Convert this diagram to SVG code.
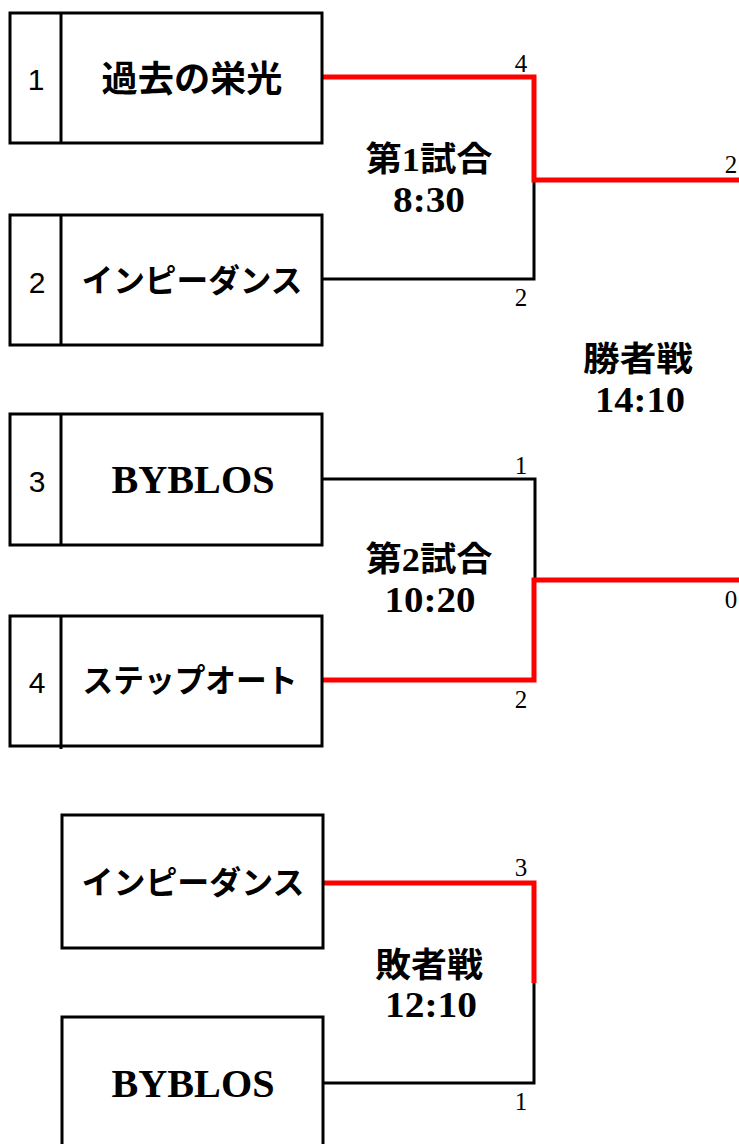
<svg xmlns="http://www.w3.org/2000/svg" width="739" height="1144" viewBox="0 0 739 1144">
<style>
  .box { fill: #fff; stroke: #000; stroke-width: 3; }
  .div { stroke: #000; stroke-width: 3; }
  .num { font-family: "Liberation Sans", Arial, sans-serif; font-size: 30px; fill: #000; text-anchor: middle; }
  .jp { font-family: "Liberation Serif", "Noto Sans CJK JP", serif; font-weight: bold; fill: #000; text-anchor: middle; }
  .en { font-family: "Liberation Serif", serif; font-weight: bold; font-size: 40px; fill: #000; text-anchor: middle; }
  .title { font-family: "Liberation Serif", "Noto Sans CJK JP", serif; font-weight: bold; font-size: 34px; fill: #000; text-anchor: middle; }
  .time { font-family: "Liberation Serif", serif; font-weight: bold; font-size: 36px; fill: #000; text-anchor: middle; }
  .score { font-family: "Liberation Serif", serif; font-size: 25px; fill: #000; text-anchor: middle; }
  .lose { fill: none; stroke: #000; stroke-width: 3; }
  .win { fill: none; stroke: #ff0000; stroke-width: 5; }
</style>
<rect width="739" height="1144" fill="#fff"/>

<g id="connectors">
  <path class="lose" d="M323,279 H534 V180"/>
  <path class="win" d="M323,77 H534 V180 H739"/>
  <path class="lose" d="M323,479 H535 V580"/>
  <path class="win" d="M323,680 H534 V580 H739"/>
  <path class="lose" d="M534,983 V1083 H323"/>
  <path class="win" d="M323,883 H534 V983"/>
</g>

<g id="team1">
  <rect class="box" x="10" y="13" width="312" height="130"/>
  <line class="div" x1="61" y1="13" x2="61" y2="143"/>
  <text class="num" x="36" y="90">1</text>
  <text class="jp" x="192" y="92" font-size="36" textLength="181" lengthAdjust="spacingAndGlyphs">過去の栄光</text>
</g>
<g id="team2">
  <rect class="box" x="10" y="215" width="312" height="130"/>
  <line class="div" x1="61" y1="215" x2="61" y2="345"/>
  <text class="num" x="37" y="293">2</text>
  <text class="jp" x="192" y="292" font-size="32" textLength="221" lengthAdjust="spacingAndGlyphs">インピーダンス</text>
</g>
<g id="team3">
  <rect class="box" x="10" y="414" width="312" height="131"/>
  <line class="div" x1="61" y1="414" x2="61" y2="545"/>
  <text class="num" x="37" y="492">3</text>
  <text class="en" x="193" y="493" textLength="163" lengthAdjust="spacingAndGlyphs">BYBLOS</text>
</g>
<g id="team4">
  <rect class="box" x="10" y="616" width="312" height="130"/>
  <line class="div" x1="61" y1="616" x2="61" y2="749"/>
  <text class="num" x="37" y="693">4</text>
  <text class="jp" x="190" y="692" font-size="32" textLength="215" lengthAdjust="spacingAndGlyphs">ステップオート</text>
</g>
<g id="loser1">
  <rect class="box" x="62" y="815" width="261" height="133"/>
  <text class="jp" x="193" y="894" font-size="32" textLength="223" lengthAdjust="spacingAndGlyphs">インピーダンス</text>
</g>
<g id="loser2">
  <rect class="box" x="62" y="1017" width="261" height="200"/>
  <text class="en" x="193" y="1097" textLength="163" lengthAdjust="spacingAndGlyphs">BYBLOS</text>
</g>

<g id="match1">
  <text class="title" x="429" y="171" textLength="127" lengthAdjust="spacingAndGlyphs">第1試合</text>
  <text class="time" x="429" y="212" textLength="72" lengthAdjust="spacingAndGlyphs">8:30</text>
  <text class="score" x="521" y="72">4</text>
  <text class="score" x="521" y="306">2</text>
</g>
<g id="match2">
  <text class="title" x="429" y="571" textLength="127" lengthAdjust="spacingAndGlyphs">第2試合</text>
  <text class="time" x="430" y="612" textLength="91" lengthAdjust="spacingAndGlyphs">10:20</text>
  <text class="score" x="521" y="474">1</text>
  <text class="score" x="521" y="708">2</text>
</g>
<g id="final">
  <text class="title" x="638" y="371" textLength="110" lengthAdjust="spacingAndGlyphs">勝者戦</text>
  <text class="time" x="640" y="412" textLength="90" lengthAdjust="spacingAndGlyphs">14:10</text>
  <text class="score" x="731" y="173">2</text>
  <text class="score" x="731" y="608">0</text>
</g>
<g id="consolation">
  <text class="title" x="429" y="977" textLength="108" lengthAdjust="spacingAndGlyphs">敗者戦</text>
  <text class="time" x="431" y="1017" textLength="92" lengthAdjust="spacingAndGlyphs">12:10</text>
  <text class="score" x="521" y="876">3</text>
  <text class="score" x="521" y="1110">1</text>
</g>
</svg>
